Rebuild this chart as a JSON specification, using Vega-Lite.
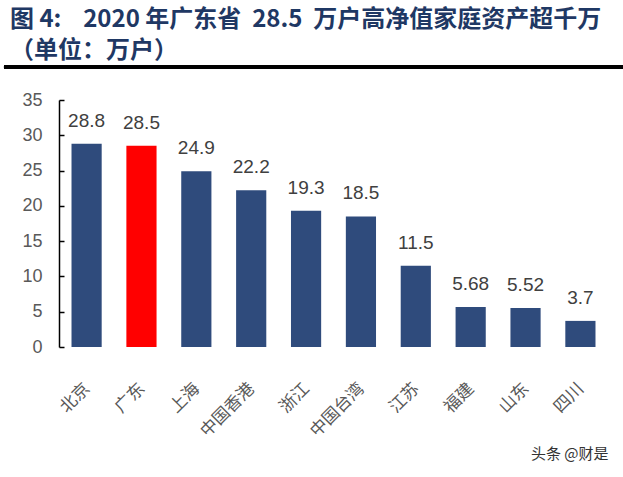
{
  "$schema": "https://vega.github.io/schema/vega-lite/v6.json",
  "width": 549,
  "height": 247,
  "autosize": {"type": "none"},
  "padding": {"left": 59, "top": 100, "right": 15, "bottom": 130},
  "background": "white",
  "config": {"view": {"stroke": null}},
  "title": {
    "text": ["图 4:\u00a0\u00a0\u00a0\u00a02020 年广东省\u00a0\u00a028.5\u00a0\u00a0万户高净值家庭资产超千万", "（单位：万户）"],
    "anchor": "start",
    "frame": "group",
    "font": "Noto Sans CJK SC",
    "fontSize": 24,
    "fontWeight": "bold",
    "color": "#1F3864",
    "lineHeight": 31,
    "baseline": "top",
    "dx": -49,
    "dy": -3,
    "offset": 0
  },
  "data": {
    "values": [
      {"region": "北京", "value": 28.8},
      {"region": "广东", "value": 28.5},
      {"region": "上海", "value": 24.9},
      {"region": "中国香港", "value": 22.2},
      {"region": "浙江", "value": 19.3},
      {"region": "中国台湾", "value": 18.5},
      {"region": "江苏", "value": 11.5},
      {"region": "福建", "value": 5.68},
      {"region": "山东", "value": 5.52},
      {"region": "四川", "value": 3.7}
    ]
  },
  "resolve": {"scale": {"x": "independent", "y": "independent"}},
  "layer": [
    {
      "mark": {"type": "rule", "color": "#000000", "strokeWidth": 3, "clip": false},
      "encoding": {
        "x": {"datum": -0.1002, "type": "quantitative", "scale": {"domain": [0, 1], "nice": false}, "axis": null},
        "x2": {"datum": 1.0273},
        "y": {"datum": 1.1335, "type": "quantitative", "scale": {"domain": [0, 1], "nice": false, "zero": false}, "axis": null}
      }
    },
    {
      "mark": {"type": "rule", "color": "#000000", "strokeWidth": 3, "clip": false},
      "encoding": {
        "x": {"datum": -0.1002, "type": "quantitative", "scale": {"domain": [0, 1], "nice": false}, "axis": null},
        "x2": {"datum": 1.0273},
        "y": {"datum": -0.5405, "type": "quantitative", "scale": {"domain": [0, 1], "nice": false, "zero": false}, "axis": null}
      }
    },
    {
      "layer": [
        {
          "mark": {"type": "bar"},
          "encoding": {
            "color": {
              "condition": {"test": "datum.region === '广东'", "value": "#FF0000"},
              "value": "#2F4B7C"
            }
          }
        },
        {
          "mark": {"type": "text", "font": "Liberation Sans", "fontSize": 19, "color": "#404040", "baseline": "alphabetic", "dy": -17},
          "encoding": {"text": {"field": "value", "type": "quantitative"}}
        }
      ],
      "encoding": {
        "x": {
          "field": "region",
          "type": "nominal",
          "sort": null,
          "scale": {"paddingInner": 0.45, "paddingOuter": 0.228},
          "axis": {
            "title": "头条 @财是",
            "titleFont": "Noto Sans CJK SC",
            "titleFontSize": 15,
            "titleFontWeight": "normal",
            "titleColor": "#333333",
            "titleAnchor": "end",
            "titleAlign": "right",
            "titleBaseline": "middle",
            "titleY": 106,
            "domain": false,
            "ticks": false,
            "labelAngle": -45,
            "labelAlign": "right",
            "labelBaseline": "top",
            "labelPadding": 33,
            "labelOffset": -5,
            "labelFont": "Noto Sans CJK SC",
            "labelFontSize": 17,
            "labelColor": "#595959"
          }
        },
        "y": {
          "field": "value",
          "type": "quantitative",
          "scale": {"domain": [0, 35], "nice": false, "zero": true},
          "axis": {
            "title": null,
            "values": [0, 5, 10, 15, 20, 25, 30, 35],
            "labelOverlap": false,
            "grid": false,
            "domainColor": "#000000",
            "domainWidth": 1.5,
            "tickColor": "#000000",
            "tickWidth": 1.5,
            "tickSize": -5,
            "labelPadding": 22,
            "labelFont": "Liberation Sans",
            "labelFontSize": 18,
            "labelColor": "#595959"
          }
        }
      }
    }
  ]
}
